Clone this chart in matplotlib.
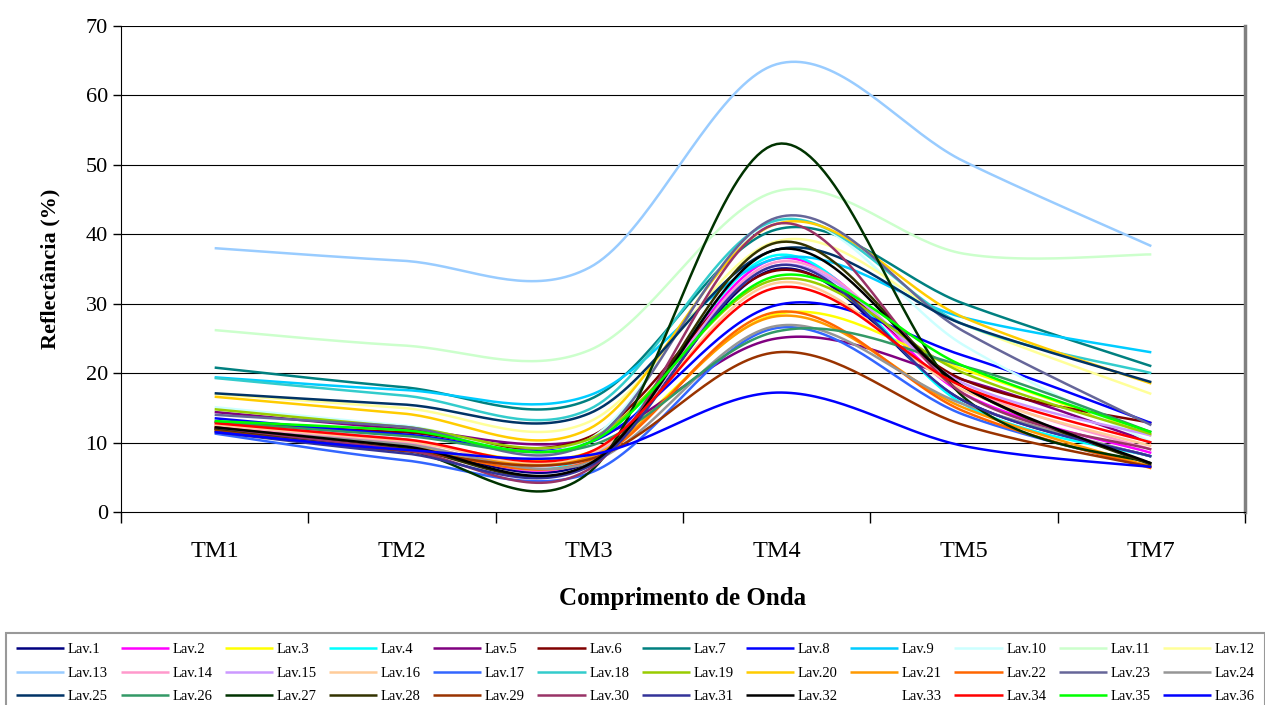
import matplotlib
matplotlib.use('Agg')
import matplotlib.pyplot as plt
import numpy as np

bands = ['TM1', 'TM2', 'TM3', 'TM4', 'TM5', 'TM7']

lav_1 = [12.0, 9.5, 7.2, 35.0, 16.0, 8.0]
lav_2 = [12.3, 9.8, 7.6, 36.5, 17.0, 8.5]
lav_3 = [12.5, 10.2, 8.6, 28.5, 20.5, 11.0]
lav_4 = [12.0, 9.6, 7.9, 37.0, 15.5, 8.0]
lav_5 = [14.4, 12.0, 10.5, 25.0, 19.0, 10.0]
lav_6 = [13.0, 11.5, 10.8, 34.8, 19.0, 12.8]
lav_7 = [20.8, 18.0, 16.2, 40.7, 30.0, 21.0]
lav_8 = [13.5, 11.2, 10.0, 29.8, 22.5, 12.8]
lav_9 = [19.4, 17.6, 16.8, 36.5, 28.0, 23.0]
lav_10 = [15.1, 12.5, 10.5, 42.0, 24.0, 10.0]
lav_11 = [26.2, 24.0, 23.3, 46.2, 37.2, 37.1]
lav_12 = [17.0, 15.0, 13.0, 39.0, 27.0, 17.0]
lav_13 = [38.0, 36.2, 35.2, 64.5, 50.5, 38.3]
lav_14 = [12.5, 10.0, 7.6, 36.0, 18.0, 9.0]
lav_15 = [12.8, 10.5, 8.1, 35.5, 18.5, 11.0]
lav_16 = [12.6, 10.3, 8.3, 33.0, 17.5, 9.5]
lav_17 = [11.3, 7.5, 5.6, 26.5, 14.0, 6.5]
lav_18 = [19.3, 16.8, 14.8, 42.0, 27.0, 20.0]
lav_19 = [14.8, 12.3, 10.5, 33.5, 20.0, 11.2]
lav_20 = [16.6, 14.2, 12.0, 41.5, 28.0, 18.5]
lav_21 = [12.2, 9.5, 7.9, 28.2, 15.0, 6.5]
lav_22 = [12.0, 9.2, 7.3, 28.8, 14.5, 6.3]
lav_23 = [14.0, 12.3, 10.0, 42.4, 26.0, 12.5]
lav_24 = [12.0, 9.8, 7.1, 26.8, 15.5, 8.0]
lav_25 = [17.1, 15.5, 14.2, 37.8, 27.0, 18.7]
lav_26 = [13.0, 11.0, 9.5, 26.0, 21.0, 11.5]
lav_27 = [12.0, 9.0, 5.7, 53.0, 16.5, 7.0]
lav_28 = [11.8, 9.2, 6.9, 38.8, 18.0, 6.8]
lav_29 = [11.7, 8.8, 7.6, 23.0, 12.5, 6.5]
lav_30 = [12.2, 9.0, 6.2, 41.5, 17.0, 9.0]
lav_31 = [11.5, 8.5, 6.6, 35.5, 16.0, 8.0]
lav_32 = [12.2, 9.5, 6.9, 37.8, 18.0, 7.0]
lav_33 = [12.0, 9.5, 7.5, 34.0, 17.0, 8.5]
lav_34 = [12.8, 10.5, 8.6, 32.3, 18.0, 10.0]
lav_35 = [13.1, 11.8, 10.0, 34.0, 21.0, 11.5]
lav_36 = [11.5, 9.0, 8.2, 17.2, 9.5, 6.5]

series = [lav_1, lav_2, lav_3, lav_4, lav_5, lav_6, lav_7, lav_8, lav_9,
          lav_10, lav_11, lav_12, lav_13, lav_14, lav_15, lav_16, lav_17,
          lav_18, lav_19, lav_20, lav_21, lav_22, lav_23, lav_24, lav_25,
          lav_26, lav_27, lav_28, lav_29, lav_30, lav_31, lav_32, lav_33,
          lav_34, lav_35, lav_36]
names = [f'Lav.{i}' for i in range(1, 37)]

# cores no estilo da paleta do Excel (Lav.33 sem linha)
colors = ['#000080', '#FF00FF', '#FFFF00', '#00FFFF', '#800080', '#800000',
          '#008080', '#0000FF', '#00CCFF', '#CCFFFF', '#CCFFCC', '#FFFF99',
          '#99CCFF', '#FF99CC', '#CC99FF', '#FFCC99', '#3366FF', '#33CCCC',
          '#99CC00', '#FFCC00', '#FF9900', '#FF6600', '#666699', '#969696',
          '#003366', '#339966', '#003300', '#333300', '#993300', '#993366',
          '#333399', '#000000', 'none', '#FF0000', '#00FF00', '#0000FF']


def smooth(y, n=40):
    # curva suavizada tipo Excel (Bezier com tangentes Catmull-Rom)
    y = np.asarray(y, dtype=float)
    x = np.arange(len(y), dtype=float)
    px = np.concatenate([[x[0]], x, [x[-1]]])
    py = np.concatenate([[y[0]], y, [y[-1]]])
    t = np.linspace(0, 1, n)
    xs, ys = [], []
    for i in range(len(y) - 1):
        p0 = np.array([px[i + 1], py[i + 1]])
        p3 = np.array([px[i + 2], py[i + 2]])
        c1 = p0 + (np.array([px[i + 2], py[i + 2]]) - np.array([px[i], py[i]])) / 6
        c2 = p3 - (np.array([px[i + 3], py[i + 3]]) - np.array([px[i + 1], py[i + 1]])) / 6
        b = ((1 - t) ** 3)[:, None] * p0 + (3 * (1 - t) ** 2 * t)[:, None] * c1 \
            + (3 * (1 - t) * t ** 2)[:, None] * c2 + (t ** 3)[:, None] * p3
        xs.append(b[:, 0])
        ys.append(b[:, 1])
    return np.concatenate(xs), np.concatenate(ys)


plt.rcParams['font.family'] = 'Liberation Serif'

fig = plt.figure(figsize=(12.65, 7.05), dpi=100)
ax = fig.add_axes([121 / 1265, 1 - 512 / 705, 1124 / 1265, 486 / 705])

handles = []
for vals, name, col in zip(series, names, colors):
    sx, sy = smooth(vals)
    ln, = ax.plot(sx, sy, color=col, linewidth=1.8, label=name,
                  solid_capstyle='butt')
    handles.append(ln)

ax.set_xlim(-0.5, 5.5)
ax.set_ylim(0, 70)
ax.set_yticks(range(0, 71, 10))
for yv in range(10, 71, 10):
    ax.axhline(yv, color='black', linewidth=0.8, zorder=0)

ax.set_xticks(np.arange(-0.5, 6, 1))
ax.set_xticklabels([])
ax.set_xticks(range(len(bands)), minor=True)
ax.set_xticklabels(bands, minor=True, fontsize=17.5)
ax.tick_params(axis='x', which='major', direction='out', length=8, width=1)
ax.tick_params(axis='x', which='minor', length=0, pad=21)
ax.tick_params(axis='y', direction='out', length=6, width=1, labelsize=16)

ax.spines['top'].set_visible(False)
ax.spines['right'].set_color('#808080')
ax.spines['right'].set_linewidth(2.5)
ax.spines['left'].set_color('black')
ax.spines['bottom'].set_color('black')

ax.set_ylabel('Reflectância (%)', fontsize=16, fontweight='bold', labelpad=18)
ax.set_xlabel('Comprimento de Onda', fontsize=18, fontweight='bold', labelpad=18)

# legenda em linhas (Lav.1..12 na primeira linha)
order = [r * 12 + c for c in range(12) for r in range(3)]
leg = fig.legend([handles[i] for i in order], [names[i] for i in order],
                 ncol=12, loc='upper left', mode='expand',
                 bbox_to_anchor=(6 / 1265, 0, 1259 / 1265, 1 - 633 / 705),
                 fontsize=10.5, handlelength=3.3, handletextpad=0.25,
                 frameon=True, fancybox=False, borderaxespad=0,
                 labelspacing=0.7, borderpad=0.7)
leg.get_frame().set_edgecolor('#808080')
leg.get_frame().set_linewidth(1.5)

fig.savefig('out.png', dpi=100)
